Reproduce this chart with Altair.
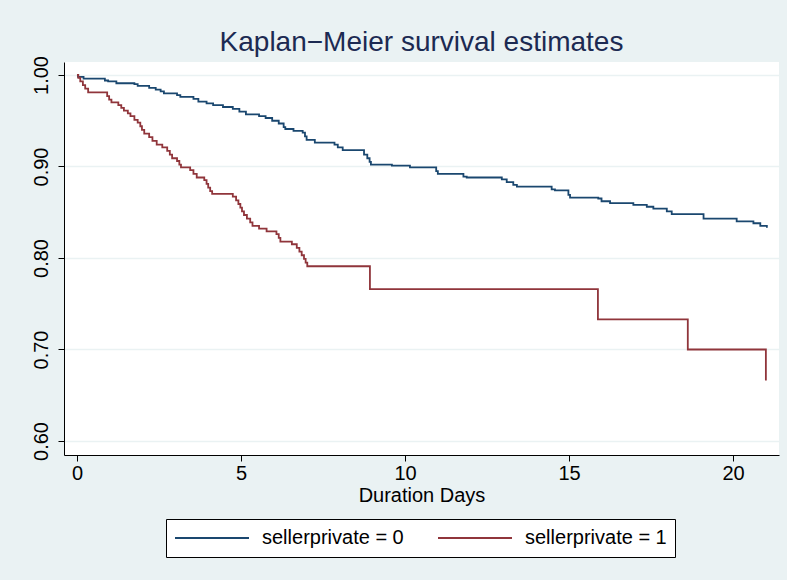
import altair as alt
import pandas as pd

# ---- data ----
groups = ["sellerprivate = 0", "sellerprivate = 1"]
colors = ["#1A476F", "#90353B"]

# sellerprivate = 0 : time of each step (days) and survival after it
t0 = [0.0, 0.03, 0.2, 0.85, 0.95, 1.2, 1.75, 1.85, 2.2, 2.4, 2.55, 2.65, 3.05, 3.15,
      3.55, 3.7, 3.95, 4.15, 4.45, 4.75, 4.95, 5.15, 5.55, 5.75, 5.95, 6.15, 6.3,
      6.35, 6.6, 6.88, 6.95, 7.0, 7.25, 7.85, 7.95, 8.1, 8.75, 8.85, 8.92, 8.96,
      9.6, 10.15, 10.95, 11.0, 11.78, 11.88, 12.95, 13.1, 13.3, 13.41, 14.47, 14.57,
      14.98, 15.03, 15.89, 15.99, 16.25, 16.96, 17.37, 17.57, 17.98, 18.13, 19.1,
      20.11, 20.62, 20.83, 21.03]
s0 = [1.0, 0.998, 0.996, 0.994, 0.993, 0.991, 0.990, 0.988, 0.986, 0.984, 0.982, 0.980,
      0.978, 0.976, 0.974, 0.971, 0.969, 0.967, 0.965, 0.963, 0.960, 0.957, 0.955,
      0.953, 0.950, 0.947, 0.943, 0.941, 0.939, 0.937, 0.933, 0.929, 0.926, 0.924,
      0.921, 0.918, 0.913, 0.909, 0.905, 0.902, 0.901, 0.899, 0.895, 0.892, 0.889,
      0.888, 0.886, 0.883, 0.880, 0.878, 0.875, 0.874, 0.869, 0.866, 0.865, 0.862,
      0.860, 0.858, 0.856, 0.854, 0.851, 0.848, 0.843, 0.840, 0.838, 0.835, 0.833]

# sellerprivate = 1
t1 = [0.0, 0.04, 0.1, 0.18, 0.25, 0.34, 0.92, 0.98, 1.05, 1.26, 1.35, 1.43, 1.55, 1.63,
      1.75, 1.85, 1.93, 1.98, 2.05, 2.2, 2.3, 2.43, 2.6, 2.75, 2.83, 2.9, 3.05, 3.12,
      3.17, 3.45, 3.55, 3.65, 3.88, 3.95, 4.0, 4.06, 4.12, 4.75, 4.85, 4.92, 4.98,
      5.03, 5.09, 5.18, 5.28, 5.35, 5.55, 5.78, 6.08, 6.15, 6.2, 6.55, 6.7, 6.78,
      6.85, 6.92, 6.97, 7.02, 8.93, 15.88, 18.62, 21.0]
s1 = [1.0, 0.997, 0.993, 0.989, 0.985, 0.981, 0.977, 0.973, 0.970, 0.967, 0.964, 0.961,
      0.958, 0.955, 0.951, 0.948, 0.944, 0.940, 0.936, 0.932, 0.928, 0.924, 0.921,
      0.917, 0.913, 0.909, 0.906, 0.902, 0.899, 0.896, 0.892, 0.888, 0.885, 0.881,
      0.877, 0.873, 0.870, 0.867, 0.863, 0.859, 0.855, 0.851, 0.847, 0.843, 0.839,
      0.835, 0.832, 0.829, 0.826, 0.822, 0.818, 0.815, 0.811, 0.807, 0.803, 0.799,
      0.795, 0.791, 0.766, 0.733, 0.700, 0.666]

x_ticks = [0, 5, 10, 15, 20]
y_ticks = [0.6, 0.7, 0.8, 0.9, 1.0]

df = pd.concat([
    pd.DataFrame({"t": t0, "s": s0, "g": groups[0]}),
    pd.DataFrame({"t": t1, "s": s1, "g": groups[1]}),
], ignore_index=True)

FONT = "Liberation Sans"

chart = alt.Chart(df).mark_line(interpolate="step-after", strokeWidth=1.8).encode(
    x=alt.X("t:Q",
            scale=alt.Scale(domain=[-0.396, 21.40], nice=False, zero=False),
            axis=alt.Axis(values=x_ticks, title="Duration Days", grid=False,
                          labelPadding=2, titlePadding=2, labelBaseline="top")),
    y=alt.Y("s:Q",
            scale=alt.Scale(domain=[0.5847, 1.0142], nice=False, zero=False),
            axis=alt.Axis(values=y_ticks, format=".2f", title=None, grid=True,
                          gridColor="#EAF2F3", gridWidth=1.5,
                          labelAngle=270, labelAlign="center",
                          labelBaseline="alphabetic", labelPadding=11)),
    color=alt.Color("g:N",
                    scale=alt.Scale(domain=groups, range=colors),
                    legend=alt.Legend(orient="none", legendX=102, legendY=457,
                                      direction="horizontal", title=None,
                                      strokeColor="black", fillColor="white",
                                      padding=8, symbolType="stroke",
                                      symbolSize=5476, symbolStrokeWidth=1.8,
                                      clipHeight=22, labelFont=FONT,
                                      labelFontSize=20, labelColor="black",
                                      labelOffset=12, columnPadding=33,
                                      cornerRadius=0)),
).properties(
    width=715,
    height=393,
    autosize=alt.AutoSizeParams(type="none"),
    padding={"left": 64, "top": 62, "right": 8, "bottom": 125},
    background="#EAF2F3",
    title=alt.TitleParams("Kaplan\u2212Meier survival estimates", font=FONT,
                          fontSize=28, fontWeight="normal", color="#1C2A52",
                          anchor="middle", frame="group", baseline="bottom",
                          offset=5, dy=34),
).configure_view(
    fill="white", strokeWidth=0
).configure_axis(
    domainColor="black", domainWidth=1, tickColor="black", tickSize=6, tickWidth=1,
    labelColor="black", labelFont=FONT, labelFontSize=20,
    titleColor="black", titleFont=FONT, titleFontSize=20, titleFontWeight="normal",
)

chart.save("out.html", embed_options={"renderer": "svg", "actions": False})
